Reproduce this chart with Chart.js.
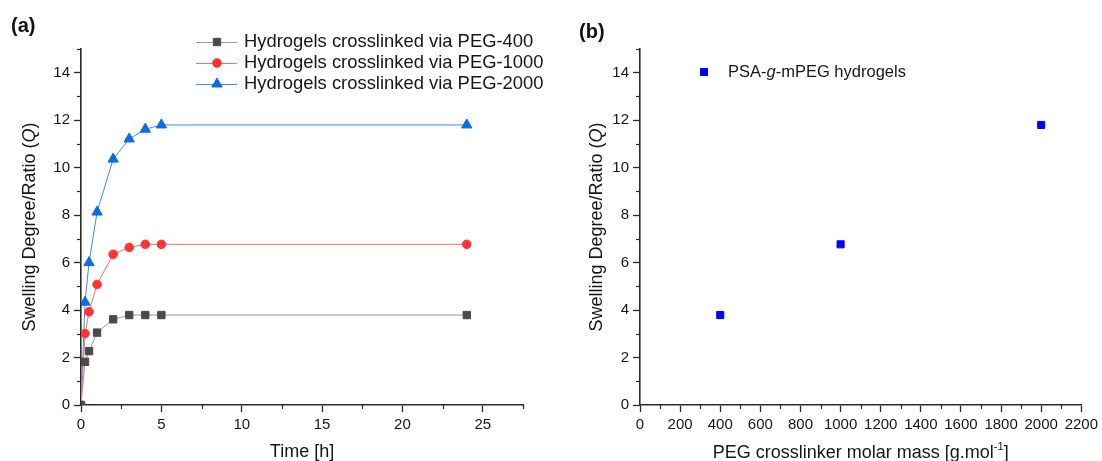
<!DOCTYPE html>
<html lang="en">
<head>
<meta charset="UTF-8">
<title>Swelling degree of PSA-g-mPEG hydrogels</title>
<script src="https://cdn.jsdelivr.net/npm/chart.js@4"></script>
<style>
  html, body { margin: 0; padding: 0; background: #fff; }
  body { width: 1102px; height: 461px; position: relative; overflow: hidden; font-family: "Liberation Sans", Arial, sans-serif; }
  .panel { position: absolute; top: 0; width: 551px; height: 461px; }
  .tag { position: absolute; font-weight: bold; font-size: 20px; line-height: 24px; color: #111; }
</style>
</head>
<body>
<div class="panel" style="left:0"><canvas id="chartA" width="551" height="461"></canvas></div>
<div class="panel" style="left:551px"><canvas id="chartB" width="551" height="461"></canvas></div>
<div class="tag" style="left:11px; top:13px">(a)</div>
<div class="tag" style="left:579px; top:19px">(b)</div>
<script>
// panel (a): swelling vs time
const timeH = [0, 0.25, 0.5, 1, 2, 3, 4, 5, 24];
const peg400 = [0, 1.82, 2.27, 3.05, 3.61, 3.79, 3.79, 3.79, 3.79];
const peg1000 = [0, 3.01, 3.93, 5.08, 6.35, 6.64, 6.77, 6.77, 6.77];
const peg2000 = [0, 4.33, 6.0, 8.13, 10.36, 11.21, 11.62, 11.8, 11.8];
const seriesLabels = ['Hydrogels crosslinked via PEG-400', 'Hydrogels crosslinked via PEG-1000', 'Hydrogels crosslinked via PEG-2000'];

// panel (b): swelling vs crosslinker molar mass
const molarMass = [400, 1000, 2000];
const swellingQ = [3.79, 6.77, 11.8];
const scatterLabel = ['PSA-', 'g', '-mPEG hydrogels'];

const FONT = '"Liberation Sans", Arial, sans-serif';
const AXIS = '#2a2a2a';
const TEXT = '#161616';

const pts = (xs, ys) => xs.map((x, i) => ({ x, y: ys[i] }));

// mixed-style text (italic / superscript pieces)
function drawRich(ctx, parts, x, y, size, align) {
  const fontOf = p => (p.i ? 'italic ' : '') + (p.sup ? size * 0.62 : size) + 'px ' + FONT;
  let total = 0;
  for (const p of parts) { ctx.font = fontOf(p); total += ctx.measureText(p.t).width; }
  let cx = align === 'left' ? x : x - total / 2;
  ctx.textAlign = 'left';
  ctx.textBaseline = 'middle';
  for (const p of parts) {
    ctx.font = fontOf(p);
    ctx.fillText(p.t, cx, p.sup ? y - size * 0.36 : y);
    cx += ctx.measureText(p.t).width;
  }
}

const overlay = {
  id: 'overlay',
  afterDraw(chart, args, o) {
    const ctx = chart.ctx;
    const area = chart.chartArea;
    ctx.save();

    // minor ticks, half way between the major ones
    ctx.strokeStyle = AXIS;
    ctx.lineWidth = 1.2;
    for (const id of ['x', 'y']) {
      const s = chart.scales[id];
      const m = o.minor[id];
      for (let v = m; v <= s.max + 1e-9; v += 2 * m) {
        ctx.beginPath();
        if (id === 'x') {
          const px = Math.round(s.getPixelForValue(v)) + 0.5;
          ctx.moveTo(px, area.bottom); ctx.lineTo(px, area.bottom + 4);
        } else {
          const py = Math.round(s.getPixelForValue(v)) + 0.5;
          ctx.moveTo(area.left - 4, py); ctx.lineTo(area.left, py);
        }
        ctx.stroke();
      }
    }

    // axis titles
    ctx.fillStyle = TEXT;
    drawRich(ctx, o.xTitle, (area.left + area.right) / 2, o.xTitleY, 18);
    ctx.save();
    ctx.translate(o.yTitleX, (area.top + area.bottom) / 2);
    ctx.rotate(-Math.PI / 2);
    drawRich(ctx, o.yTitle, 0, 0, 18);
    ctx.restore();

    // legend
    const drawPoint = Chart.helpers.drawPoint;
    chart.data.datasets.forEach((ds, i) => {
      const L = o.legend;
      const y = L.y + i * L.gap;
      if (L.line) {
        ctx.strokeStyle = ds.borderColor;
        ctx.lineWidth = 1;
        ctx.beginPath(); ctx.moveTo(L.x0, y + 0.5); ctx.lineTo(L.x1, y + 0.5); ctx.stroke();
      }
      ctx.fillStyle = ds.pointBackgroundColor;
      ctx.strokeStyle = ds.pointBorderColor;
      ctx.lineWidth = ds.pointBorderWidth;
      drawPoint(ctx, { pointStyle: ds.pointStyle, radius: ds.pointRadius, rotation: 0, borderWidth: ds.pointBorderWidth }, L.mx, y);
      ctx.fillStyle = TEXT;
      drawRich(ctx, L.text[i], L.tx, y, L.size, 'left');
    });

    ctx.restore();
  }
};

function axes(xMin, xMax, xStep, yWidth) {
  const grid = { display: true, drawOnChartArea: false, drawTicks: true, tickLength: 7, tickColor: AXIS, tickWidth: 1.3 };
  const border = { display: true, color: AXIS, width: 1.6 };
  const ticks = { color: TEXT, font: { family: FONT, size: 15 }, padding: 4, includeBounds: false, format: { useGrouping: false } };
  return {
    x: {
      type: 'linear', min: xMin, max: xMax,
      grid, border,
      ticks: Object.assign({ stepSize: xStep, maxRotation: 0, autoSkip: false }, ticks),
      afterFit: s => { s.height = 56; }
    },
    y: {
      type: 'linear', min: 0, max: 15,
      grid, border,
      ticks: Object.assign({ stepSize: 2 }, ticks),
      afterFit: s => { s.width = yWidth; }
    }
  };
}

const yTitle = [{ t: 'Swelling Degree/Ratio (' }, { t: 'Q', i: true }, { t: ')' }];

new Chart(document.getElementById('chartA'), {
  type: 'line',
  data: {
    datasets: [
      { label: seriesLabels[0], data: pts(timeH, peg400), borderColor: '#9a9a9a', borderWidth: 1,
        pointStyle: 'rect', pointRadius: 5.2, pointBackgroundColor: '#4a4a4a', pointBorderColor: '#4a4a4a', pointBorderWidth: 1 },
      { label: seriesLabels[1], data: pts(timeH, peg1000), borderColor: '#ff6e6e', borderWidth: 1,
        pointStyle: 'circle', pointRadius: 4.3, pointBackgroundColor: '#ff3434', pointBorderColor: '#ff3434', pointBorderWidth: 1 },
      { label: seriesLabels[2], data: pts(timeH, peg2000), borderColor: '#3d8de6', borderWidth: 1,
        pointStyle: 'triangle', pointRadius: 6, pointBackgroundColor: '#0b6ee0', pointBorderColor: '#0b6ee0', pointBorderWidth: 1 }
    ]
  },
  options: {
    responsive: false,
    animation: false,
    layout: { padding: { top: 49, right: 28, left: 0, bottom: 0 } },
    scales: axes(0, 27.5, 5, 81),
    elements: { line: { tension: 0 } },
    plugins: {
      legend: { display: false },
      tooltip: { enabled: false },
      overlay: {
        minor: { x: 2.5, y: 1 },
        xTitle: [{ t: 'Time [h]' }], xTitleY: 452,
        yTitle, yTitleX: 30,
        legend: { line: true, x0: 196, x1: 237, mx: 217, tx: 244, y: 42, gap: 21, size: 18.4,
          text: seriesLabels.map(t => [{ t }]) }
      }
    }
  },
  plugins: [overlay]
});

new Chart(document.getElementById('chartB'), {
  type: 'scatter',
  data: {
    datasets: [
      { label: scatterLabel.join(''), data: pts(molarMass, swellingQ), showLine: false,
        pointStyle: 'rect', pointRadius: 5, pointBackgroundColor: '#0000ff', pointBorderColor: '#0000ff', pointBorderWidth: 1 }
    ]
  },
  options: {
    responsive: false,
    animation: false,
    layout: { padding: { top: 49, right: 18, left: 0, bottom: 0 } },
    scales: axes(0, 2200, 200, 89),
    plugins: {
      legend: { display: false },
      tooltip: { enabled: false },
      overlay: {
        minor: { x: 100, y: 1 },
        xTitle: [{ t: 'PEG crosslinker molar mass [g.mol' }, { t: '-1', sup: true }, { t: ']' }], xTitleY: 453,
        yTitle, yTitleX: 46,
        legend: { line: false, mx: 153, tx: 177, y: 72, gap: 21, size: 16.5,
          text: [[{ t: scatterLabel[0] }, { t: scatterLabel[1], i: true }, { t: scatterLabel[2] }]] }
      }
    }
  },
  plugins: [overlay]
});
</script>
</body>
</html>
